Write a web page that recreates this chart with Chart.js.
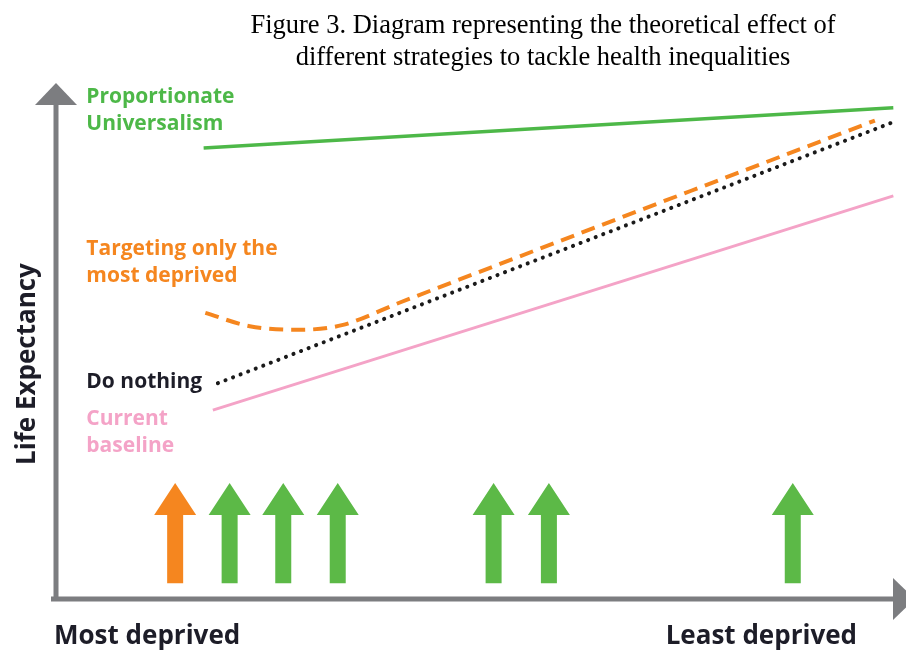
<!DOCTYPE html>
<html>
<head>
<meta charset="utf-8">
<script src="https://cdn.jsdelivr.net/npm/chart.js@4"></script>
<style>
  html, body { margin: 0; padding: 0; background: #fff; }
  #wrap { width: 906px; height: 650px; }
</style>
</head>
<body>
<div id="wrap"><canvas id="diagram"></canvas></div>
<script>
// x: deprivation (0 = most deprived, 100 = least), y: life expectancy (arbitrary units)
const universalismX = [17.5, 99.8];
const universalismY = [88.6, 96.5];

const targetingX = [17.7, 23, 29, 34, 41, 97.6];
const targetingY = [56.2, 53.6, 52.9, 53.8, 58.3, 94.0];

const nothingX = [19.2, 99.8];
const nothingY = [42.4, 93.7];

const baselineX = [18.6, 99.8];
const baselineY = [37.1, 79.2];

// intervention arrows along the deprivation axis
const arrowX = [14.1, 20.6, 27.0, 33.5, 52.1, 58.7, 87.8];
const arrowKind = ['targeted', 'universal', 'universal', 'universal', 'universal', 'universal', 'universal'];
const arrowBottom = 3.1;
const arrowTop = 22.8;

const titleLines = ['Figure 3. Diagram representing the theoretical effect of',
                    'different strategies to tackle health inequalities'];

const GREEN = '#4db848';
const ARROW_GREEN = '#5cb947';
const ORANGE = '#f5861f';
const PINK = '#f4a3c7';
const DARK = '#1d1d28';
const AXIS = '#7c7d80';

function pts(xs, ys) {
    return xs.map(function (x, i) { return { x: x, y: ys[i] }; });
}

const labelFont = 'bold 21px "Open Sans", "Noto Sans", sans-serif';

const labels = [
    { lines: ['Proportionate', 'Universalism'], x: 3.5, y: 97.5, color: GREEN },
    { lines: ['Targeting only the', 'most deprived'], x: 3.5, y: 67.5, color: ORANGE },
    { lines: ['Do nothing'], x: 3.5, y: 41.5, color: DARK },
    { lines: ['Current', 'baseline'], x: 3.5, y: 34.2, color: PINK }
];

const decorations = {
    id: 'decorations',
    afterDatasetsDraw: function (chart) {
        const ctx = chart.ctx;
        const xs = chart.scales.x;
        const ys = chart.scales.y;
        const x0 = xs.getPixelForValue(0) - 1;
        const y0 = ys.getPixelForValue(0);
        const top = ys.getPixelForValue(100);
        const right = xs.getPixelForValue(100);

        ctx.save();

        // bottom arrows
        arrowX.forEach(function (v, i) {
            const cx = xs.getPixelForValue(v);
            const yb = ys.getPixelForValue(arrowBottom);
            const yt = ys.getPixelForValue(arrowTop);
            const head = 32, hw = 21, sw = 8;
            ctx.fillStyle = arrowKind[i] === 'targeted' ? ORANGE : ARROW_GREEN;
            ctx.beginPath();
            ctx.moveTo(cx - sw, yb);
            ctx.lineTo(cx - sw, yt + head);
            ctx.lineTo(cx - hw, yt + head);
            ctx.lineTo(cx, yt);
            ctx.lineTo(cx + hw, yt + head);
            ctx.lineTo(cx + sw, yt + head);
            ctx.lineTo(cx + sw, yb);
            ctx.closePath();
            ctx.fill();
        });

        // axes
        ctx.strokeStyle = AXIS;
        ctx.fillStyle = AXIS;
        ctx.lineWidth = 5;
        ctx.beginPath();
        ctx.moveTo(x0, y0 + 2);
        ctx.lineTo(x0, top + 10);
        ctx.moveTo(x0 - 5, y0);
        ctx.lineTo(right - 2, y0);
        ctx.stroke();
        ctx.beginPath();
        ctx.moveTo(x0 - 21, top + 15);
        ctx.lineTo(x0, top - 7);
        ctx.lineTo(x0 + 21, top + 15);
        ctx.closePath();
        ctx.fill();
        ctx.beginPath();
        ctx.moveTo(right - 2, y0 - 21);
        ctx.lineTo(right + 20, y0);
        ctx.lineTo(right - 2, y0 + 21);
        ctx.closePath();
        ctx.fill();

        // series labels
        ctx.font = labelFont;
        ctx.textAlign = 'left';
        ctx.textBaseline = 'alphabetic';
        labels.forEach(function (l) {
            ctx.fillStyle = l.color;
            const px = xs.getPixelForValue(l.x);
            const py = ys.getPixelForValue(l.y);
            l.lines.forEach(function (t, k) {
                ctx.fillText(t, px, py + k * 27);
            });
        });

        // axis titles
        ctx.fillStyle = DARK;
        ctx.font = 'bold 26px "Open Sans", "Noto Sans", sans-serif';
        ctx.fillText('Most deprived', x0 - 2, y0 + 45);
        ctx.textAlign = 'right';
        ctx.fillText('Least deprived', right - 38, y0 + 45);
        ctx.save();
        ctx.translate(35, 364);
        ctx.rotate(-Math.PI / 2);
        ctx.textAlign = 'center';
        ctx.fillText('Life Expectancy', 0, 0);
        ctx.restore();

        // figure caption
        ctx.fillStyle = '#000';
        ctx.font = '26.5px "Liberation Serif", "Times New Roman", serif';
        ctx.textAlign = 'center';
        ctx.fillText(titleLines[0], 543, 33);
        ctx.fillText(titleLines[1], 543, 65);

        ctx.restore();
    }
};

new Chart(document.getElementById('diagram').getContext('2d'), {
    type: 'line',
    data: {
        datasets: [
            {
                label: 'Proportionate Universalism',
                data: pts(universalismX, universalismY),
                borderColor: GREEN,
                borderWidth: 3.5,
                pointRadius: 0
            },
            {
                label: 'Targeting only the most deprived',
                data: pts(targetingX, targetingY),
                borderColor: ORANGE,
                borderWidth: 4,
                borderDash: [14, 8],
                cubicInterpolationMode: 'monotone',
                pointRadius: 0
            },
            {
                label: 'Do nothing',
                data: pts(nothingX, nothingY),
                borderColor: '#1a1a1a',
                borderWidth: 4,
                borderDash: [0.1, 8],
                borderCapStyle: 'round',
                pointRadius: 0
            },
            {
                label: 'Current baseline',
                data: pts(baselineX, baselineY),
                borderColor: PINK,
                borderWidth: 3,
                pointRadius: 0
            }
        ]
    },
    options: {
        responsive: true,
        maintainAspectRatio: false,
        animation: false,
        layout: {
            padding: { left: 57, right: 11, top: 90, bottom: 51 }
        },
        scales: {
            x: { type: 'linear', min: 0, max: 100, display: false },
            y: { type: 'linear', min: 0, max: 100, display: false }
        },
        plugins: {
            legend: { display: false },
            tooltip: { enabled: false }
        }
    },
    plugins: [decorations]
});
</script>
</body>
</html>
